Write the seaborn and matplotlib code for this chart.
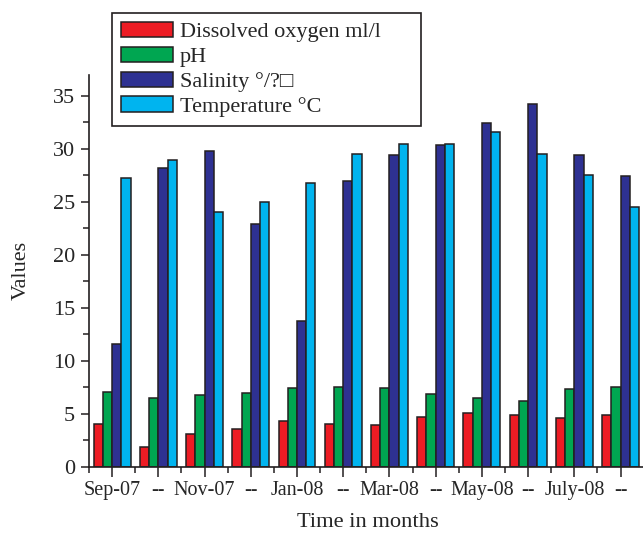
import numpy as np
import pandas as pd
import seaborn as sns
import matplotlib.pyplot as plt
from matplotlib.ticker import MultipleLocator
from matplotlib.patches import Patch

# monthly values
months = ["Sep-07", "Oct-07", "Nov-07", "Dec-07", "Jan-08", "Feb-08",
          "Mar-08", "Apr-08", "May-08", "Jun-08", "July-08", "Aug-08"]
tick_labels = ["Sep-07", "--", "Nov-07", "--", "Jan-08", "--",
               "Mar-08", "--", "May-08", "--", "July-08", "--"]

dissolved_oxygen = [4.0, 1.9, 3.1, 3.6, 4.3, 4.0, 3.9, 4.7, 5.1, 4.9, 4.6, 4.9]
ph = [7.1, 6.5, 6.8, 7.0, 7.4, 7.5, 7.4, 6.9, 6.5, 6.2, 7.3, 7.5]
salinity = [11.6, 28.2, 29.8, 22.9, 13.8, 27.0, 29.4, 30.4, 32.4, 34.2, 29.4, 27.4]
temperature = [27.3, 29.0, 24.0, 25.0, 26.8, 29.5, 30.5, 30.5, 31.6, 29.5, 27.5, 24.5]

series_names = ["Dissolved oxygen ml/l", "pH", "Salinity °/?□", "Temperature °C"]
colors = ["#ED1C24", "#00A651", "#2E3192", "#00B4EF"]

df = pd.DataFrame({
    "month": months * 4,
    "param": np.repeat(series_names, len(months)),
    "value": dissolved_oxygen + ph + salinity + temperature,
})

sns.set_style("ticks")
plt.rcParams['font.family'] = ['Liberation Serif', 'DejaVu Sans']
plt.rcParams['font.size'] = 14.5

fig = plt.figure(figsize=(6.43, 5.34), dpi=100)
ax = fig.add_axes([0.1384, 0.126, 0.867, 0.734])

sns.barplot(data=df, x="month", y="value", hue="param", order=months,
            hue_order=series_names, palette=colors, width=0.8,
            edgecolor="#231f20", linewidth=1.1, saturation=1, ax=ax,
            legend=False)

ax.set_xlim(-0.5, 11.56)
ax.set_ylim(0, 37)
ax.set_xticks(range(len(months)))
ax.set_xticklabels(tick_labels, fontsize=14.5)
ax.xaxis.set_minor_locator(MultipleLocator(1, offset=0.5))
ax.yaxis.set_major_locator(MultipleLocator(5))
ax.yaxis.set_minor_locator(MultipleLocator(2.5))
ax.tick_params(axis="x", which="major", direction="out", length=7,
               width=1.1, color="#231f20", pad=3)
ax.tick_params(axis="y", which="major", direction="out", length=6,
               width=1.1, color="#231f20", labelsize=16, pad=4)
ax.tick_params(axis="both", which="minor", direction="out", length=4,
               width=1.1, color="#231f20")

for s in ["top", "right"]:
    ax.spines[s].set_visible(False)
for s in ["left", "bottom"]:
    ax.spines[s].set_linewidth(1.2)
    ax.spines[s].set_color("#231f20")

ax.set_xlabel("Time in months", fontsize=16.2, labelpad=10)
ax.set_ylabel("Values", fontsize=16, labelpad=16)

handles = [Patch(facecolor=c, edgecolor="#231f20", linewidth=1.1) for c in colors]
leg = fig.legend(handles, series_names, loc="upper left",
                 bbox_to_anchor=(112 / 643, 1 - 127 / 534, 309 / 643, 114 / 534),
                 mode="expand", borderaxespad=0, fontsize=16,
                 handlelength=2.35, handleheight=0.68, labelspacing=0.2,
                 handletextpad=0.3, borderpad=0.4, fancybox=False,
                 framealpha=1, edgecolor="#231f20")
leg.get_frame().set_linewidth(1.2)

fig.savefig("out.png", dpi=100)
